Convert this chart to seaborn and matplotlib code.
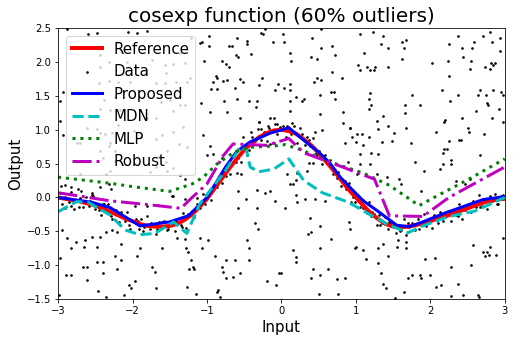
import numpy as np
import seaborn as sns
import matplotlib
matplotlib.use("Agg")
import matplotlib.pyplot as plt

# reference curve
ref_x = [-3.0, -2.9, -2.8, -2.7, -2.6, -2.5, -2.4, -2.3, -2.2, -2.1, -2.0, -1.9, -1.8, -1.7, -1.6,
         -1.5, -1.4, -1.3, -1.2, -1.1, -1.0, -0.9, -0.8, -0.7, -0.6, -0.5, -0.4, -0.3, -0.2, -0.1,
         0.0, 0.1, 0.2, 0.3, 0.4, 0.5, 0.6, 0.7, 0.8, 0.9, 1.0, 1.1, 1.2, 1.3, 1.4, 1.5, 1.6, 1.7,
         1.8, 1.9, 2.0, 2.1, 2.2, 2.3, 2.4, 2.5, 2.6, 2.7, 2.8, 2.9, 3.0]
ref_y = [0.0, -0.02, -0.04, -0.06, -0.09, -0.12, -0.16, -0.21, -0.26, -0.31, -0.35, -0.39, -0.42, -0.43, -0.43,
         -0.42, -0.39, -0.33, -0.25, -0.14, -0.02, 0.13, 0.28, 0.43, 0.57, 0.70, 0.80, 0.89, 0.95, 0.99,
         1.0, 0.98, 0.94, 0.86, 0.77, 0.66, 0.53, 0.40, 0.26, 0.12, 0.0, -0.12, -0.23, -0.32, -0.39, -0.43, -0.44, -0.43,
         -0.41, -0.38, -0.35, -0.31, -0.28, -0.24, -0.20, -0.16, -0.12, -0.08, -0.05, -0.03, -0.02]

# model fits
proposed_x = [-3.0, -2.55, -2.3, -1.9, -1.5, -1.25, -1.0, -0.75, -0.6, -0.42, -0.15, 0.1, 0.25, 0.52, 0.65,
              0.79, 0.92, 1.1, 1.28, 1.55, 1.72, 1.9, 2.17, 2.71, 2.98]
proposed_y = [0.0, -0.07, -0.15, -0.42, -0.36, -0.27, 0.0, 0.45, 0.68, 0.82, 0.95, 1.03, 0.89, 0.65, 0.51,
              0.30, 0.15, -0.05, -0.19, -0.41, -0.43, -0.36, -0.24, -0.03, 0.01]

mdn_x = [-3.0, -2.75, -2.6, -2.3, -2.1, -1.9, -1.7, -1.45, -1.27, -1.1, -0.75, -0.55, -0.47, -0.42, -0.3,
         -0.1, 0.1, 0.3, 0.55, 0.9, 1.2, 1.45, 1.7, 1.9, 2.25, 2.6, 3.0]
mdn_y = [-0.21, -0.06, -0.07, -0.26, -0.48, -0.55, -0.53, -0.36, -0.53, -0.1, 0.4, 0.75, 0.7, 0.45, 0.38,
         0.42, 0.57, 0.25, 0.07, -0.07, -0.26, -0.41, -0.52, -0.42, -0.28, -0.2, 0.0]

mlp_x = [-3.0, -2.3, -2.0, -1.5, -1.2, -1.05, -0.87, -0.65, -0.45, -0.1, 0.05, 0.25, 0.55, 0.8, 1.1,
         1.45, 1.85, 2.05, 2.5, 3.0]
mlp_y = [0.3, 0.21, 0.16, 0.09, 0.2, 0.3, 0.49, 0.66, 0.74, 0.76, 0.78, 0.71, 0.57, 0.47, 0.36,
         0.18, -0.12, 0.0, 0.26, 0.57]

robust_x = [-3.0, -2.3, -1.75, -1.35, -1.2, -1.0, -0.78, -0.65, -0.2, 0.1, 0.3, 0.7, 1.25, 1.45,
            1.9, 2.25, 3.0]
robust_y = [0.07, -0.05, -0.11, -0.16, 0.0, 0.2, 0.62, 0.79, 0.77, 0.87, 0.66, 0.5, 0.27, -0.27,
            -0.28, 0.0, 0.45]

# noisy samples: points lying on the curve
inlier_x = [-2.98, -2.95, -2.91, -2.86, -2.83, -2.79, -2.74, -2.70, -2.66, -2.62, -2.58, -2.55, -2.51, -2.47,
            -2.43, -2.40, -2.36, -2.33, -2.29, -2.25, -2.22, -2.18, -2.14, -2.10, -2.07, -2.03, -1.99, -1.95,
            -1.91, -1.88, -1.84, -1.80, -1.77, -1.73, -1.69, -1.65, -1.62, -1.58, -1.54, -1.50, -1.46, -1.43,
            -1.39, -1.35, -1.32, -1.28, -1.24, -1.20, -1.17, -1.13, -1.09, -1.06, -1.02, -0.98, -0.94, -0.91,
            -0.87, -0.83, -0.80, -0.76, -0.72, -0.69, -0.65, -0.61, -0.58, -0.54, -0.50, -0.46, -0.43, -0.39,
            -0.35, -0.32, -0.28, -0.24, -0.20, -0.17, -0.13, -0.09, -0.06, -0.02, 0.02, 0.06, 0.09, 0.13,
            0.17, 0.21, 0.24, 0.28, 0.32, 0.35, 0.39, 0.43, 0.46, 0.50, 0.54, 0.58, 0.61, 0.65, 0.69,
            0.72, 0.76, 0.80, 0.83, 0.87, 0.91, 0.94, 0.98, 1.02, 1.06, 1.09, 1.13, 1.17, 1.20, 1.24,
            1.28, 1.31, 1.35, 1.39, 1.43, 1.46, 1.50, 1.54, 1.57, 1.61, 1.65, 1.68, 1.72, 1.76, 1.80,
            1.83, 1.87, 1.91, 1.94, 1.98, 2.02, 2.05, 2.09, 2.13, 2.17, 2.20, 2.24, 2.28, 2.31, 2.35,
            2.39, 2.42, 2.46, 2.50, 2.54, 2.57, 2.61, 2.65, 2.69, 2.72, 2.76, 2.80, 2.83, 2.87, 2.91,
            2.95, 2.98]
inlier_y = [0.06, -0.10, 0.00, -0.07, 0.08, -0.17, -0.05, -0.01, -0.14, 0.00, -0.12, 0.04, -0.17, -0.10,
            -0.26, -0.09, -0.19, -0.10, -0.27, -0.19, -0.19, -0.36, -0.27, -0.35, -0.21, -0.47, -0.35, -0.32,
            -0.46, -0.32, -0.43, -0.28, -0.47, -0.40, -0.54, -0.36, -0.44, -0.34, -0.48, -0.38, -0.35, -0.49,
            -0.36, -0.40, -0.23, -0.45, -0.28, -0.20, -0.29, -0.09, -0.15, 0.05, -0.09, 0.04, -0.04, 0.18,
            0.16, 0.32, 0.22, 0.38, 0.46, 0.35, 0.52, 0.52, 0.71, 0.52, 0.70, 0.79, 0.70, 0.89,
            0.83, 1.01, 0.85, 0.96, 0.84, 1.03, 0.97, 1.08, 0.94, 1.04, 1.06, 0.90, 1.00, 0.93,
            1.06, 0.80, 0.91, 0.93, 0.78, 0.90, 0.76, 0.88, 0.65, 0.69, 0.50, 0.63, 0.51, 0.56, 0.35,
            0.41, 0.38, 0.17, 0.24, 0.12, 0.22, -0.06, 0.02, 0.03, -0.14, -0.03, -0.17, -0.06, -0.28, -0.24,
            -0.41, -0.26, -0.37, -0.29, -0.46, -0.37, -0.37, -0.52, -0.42, -0.48, -0.32, -0.56, -0.43, -0.37, -0.48,
            -0.32, -0.41, -0.24, -0.42, -0.33, -0.45, -0.26, -0.32, -0.21, -0.35, -0.24, -0.20, -0.34, -0.22, -0.26,
            -0.09, -0.32, -0.18, -0.11, -0.21, -0.05, -0.14, 0.04, -0.13, -0.04, -0.17, 0.02, -0.05, 0.05, -0.09,
            0.02, 0.04]

# a second, sparser pass along the curve where the cloud is thicker
inlier2_x = [-2.72, -2.57, -2.45, -2.38, -2.27, -2.16, -2.05, -1.93, -1.86, -1.75, -1.67, -1.60, -1.52, -1.41,
             -1.33, -1.26, -0.85, -0.74, -0.63, -0.48, 0.37, 0.48, 0.63, 0.74, 0.85, 0.96, 1.04, 1.15,
             1.22, 1.33, 1.45, 1.59, 1.70, 1.85, 1.96, 2.11, 2.26, 2.37, 2.52, 2.67, 2.78, 2.89]
inlier2_y = [-0.14, -0.05, -0.18, -0.09, -0.32, -0.22, -0.41, -0.35, -0.49, -0.37, -0.46, -0.36, -0.47, -0.35,
             -0.43, -0.24, 0.25, 0.31, 0.57, 0.78, 0.85, 0.62, 0.53, 0.29, 0.25, 0.01, 0.00, -0.23,
             -0.22, -0.41, -0.36, -0.49, -0.37, -0.47, -0.33, -0.37, -0.21, -0.28, -0.09, -0.14, -0.02, -0.09]

# outliers, upper band (y > 1.1)
upper_x = [-2.88, -2.60, -2.48, -2.06, -1.94, -1.81, -2.93, -2.98,
           -0.97, -1.07, -1.10, -0.97, -0.71, -0.66, -0.59, -0.46, -0.46, -0.27, -0.25, -0.22, -0.11,
           -1.04, -0.80, -0.75, -0.70, -0.61, -0.58, -0.41, -0.88, -0.86, -0.92, -0.78, -0.73, -0.56,
           -0.52, -0.26, -0.30, -0.04, -0.08, -0.94, -0.87, -0.62, -1.08, -0.77, -0.60, -0.43, -0.33,
           -0.34, -0.96, -0.73, -0.55, -0.15, -0.10,
           0.02, 0.53, 0.04, 0.41, 0.11, 0.13, 0.53, 0.68, 0.72, 0.40, 0.48, 1.06, 1.23, 1.37, 1.34,
           1.43, 1.11, 1.03, 1.15, 1.26, 1.05, 1.19, 1.25, 1.43, 0.68, 0.48, 0.53, 0.44, 0.82, 0.11,
           0.04, 0.12, 0.20, 0.27, 0.31, 0.52, 0.67, 0.70, 0.72, 0.11, 1.19, 1.18, 1.21, 1.17, 0.11,
           0.52, 0.83, 1.37,
           1.62, 1.68, 1.64, 1.62, 2.02, 2.25, 2.24, 2.25, 2.37, 2.43, 2.44, 2.56, 2.59, 2.71, 2.80,
           2.83, 2.94, 2.94, 2.55, 2.53, 2.74, 2.80, 2.82, 2.84, 2.87, 1.76, 2.16, 2.27, 2.37, 2.67,
           2.64, 2.75, 2.84, 2.95, 2.98, 1.66, 1.86, 1.66, 2.76, 2.78, 2.92, 2.62, 2.43, 2.83,
           0.83, 0.92, 1.28, 1.43, 2.20, 2.18, 2.98, -0.30, -0.18, -0.06, -2.98]
upper_y = [2.49, 2.41, 2.43, 2.44, 2.43, 2.46, 1.55, 1.42,
           2.38, 2.29, 2.28, 2.24, 2.23, 2.23, 2.35, 2.31, 2.26, 2.43, 2.41, 2.48, 2.30,
           2.01, 2.02, 1.97, 1.93, 2.10, 2.08, 2.12, 1.80, 1.77, 1.70, 1.72, 1.73, 1.75,
           1.70, 1.77, 1.66, 1.67, 1.58, 1.60, 1.60, 1.62, 1.39, 1.42, 1.45, 1.42, 1.42,
           1.33, 1.26, 1.26, 1.17, 1.17, 1.17,
           2.42, 2.49, 2.30, 2.36, 2.14, 2.01, 2.21, 2.24, 2.11, 2.07, 2.05, 2.42, 2.44, 2.38, 2.27,
           2.21, 2.13, 1.96, 1.93, 1.93, 1.88, 1.88, 1.88, 1.92, 1.85, 1.76, 1.74, 1.70, 1.76, 1.67,
           1.62, 1.59, 1.48, 1.43, 1.46, 1.51, 1.55, 1.55, 1.45, 1.42, 1.54, 1.46, 1.37, 1.30, 1.27,
           1.23, 1.26, 1.21,
           2.29, 2.32, 2.20, 2.04, 1.98, 2.26, 2.02, 1.80, 2.39, 2.20, 2.08, 2.20, 2.30, 2.38, 2.45,
           2.29, 2.35, 2.16, 2.01, 1.90, 1.92, 1.90, 1.99, 1.96, 1.98, 1.52, 1.59, 1.43, 1.51, 1.59,
           1.51, 1.52, 1.58, 1.55, 1.52, 1.36, 1.37, 1.24, 1.40, 1.37, 1.30, 1.27, 1.18, 1.18,
           1.10, 1.03, 1.13, 1.06, 1.14, 1.12, 1.12, 1.11, 1.06, 1.08, 1.13]

# outliers hidden behind the legend box
legend_x = [-2.19, -2.44, -2.32, -2.44, -2.08, -1.74, -1.57, -1.45, -1.36, -1.29, -1.55, -1.68, -1.56,
            -1.41, -1.27, -2.45, -2.32, -2.19, -2.04, -2.23, -2.38, -2.44, -2.30, -2.17, -1.90, -1.81,
            -1.68, -1.45, -1.36, -1.50, -1.62, -2.19, -2.44, -2.28, -1.98, -1.88, -1.61, -1.45, -1.32,
            -1.38, -1.27, -1.54, -1.65, -2.70, -2.61, -2.48, -2.30, -2.23, -2.44, -2.39, -2.23, -2.30,
            -1.76, -1.68, -1.54, -1.45, -1.36, -2.35, -2.70, -1.21, -1.23, -1.30, -2.31, -2.75, -2.37]
legend_y = [2.30, 2.10, 2.00, 1.93, 2.00, 2.03, 1.95, 1.97, 2.13, 1.98, 1.84, 1.69, 1.69,
            1.71, 1.71, 1.69, 1.72, 1.70, 1.71, 1.49, 1.44, 1.31, 1.29, 1.29, 1.29, 1.18,
            1.18, 1.27, 1.36, 1.44, 1.41, 1.07, 0.95, 0.95, 0.98, 0.90, 0.92, 0.97, 1.04,
            0.79, 0.74, 0.69, 0.60, 0.80, 1.03, 1.01, 0.80, 0.69, 0.69, 0.59, 0.54, 0.39,
            0.38, 0.45, 0.39, 0.43, 0.33, 0.35, 0.35, 2.36, 1.76, 1.36, 0.76, 0.80, 0.94]

# outliers, middle band (-0.2 < y < 1.1)
middle_x = [-2.93, -2.96, -2.91, -2.82, -2.73, -2.69, -2.55, -2.53, -2.44, -2.31, -2.29, -2.91, -2.82,
            -1.97, -1.81, -1.66, -1.68, -1.55,
            -0.30, -0.28, -1.05, -0.96, -0.52, -0.41, -0.38, -1.00, -0.92, -0.80, -0.58, -0.46, -0.39,
            -0.16, -0.10, -0.60, -0.54, -0.58, -0.33, -0.22, -0.16, -1.30, -1.47, -1.45, -1.30, -1.14,
            -0.47, -0.09, -0.58, -0.33,
            0.07, 0.14, 0.25, 0.45, 0.54, 0.92, 1.01, 1.08, 0.95, 1.17, 1.30, 1.35, 1.48, 0.86, 1.00,
            1.09, 1.21, 1.06, 1.30, 0.89, 1.05, 1.19, 1.01, 1.28, 1.42, 0.37, 0.43, 0.07, 0.21, 0.34,
            0.19, 0.16, 0.11, 0.19, 0.32, 0.45, 0.59, 0.99, 0.21, 0.05, 1.10,
            1.51, 1.67, 2.07, 2.50, 2.52, 2.72, 1.74, 2.25, 2.38, 2.41, 2.18, 2.23, 2.17, 2.67, 2.28,
            2.28, 1.79, 1.92, 2.17, 2.13, 1.58, 1.61, 1.88, 2.35, 2.46, 2.53, -0.36]
middle_y = [0.92, 0.17, 0.18, 0.15, 0.13, 0.10, 0.07, 0.02, 0.15, 0.20, 0.12, -0.15, -0.13,
            -0.13, -0.13, -0.11, 0.86, 0.52,
            1.11, 1.01, 0.92, 0.76, 0.90, 0.96, 0.84, 0.63, 0.64, 0.58, 0.59, 0.63, 0.44,
            0.79, 0.81, 0.36, 0.35, 0.10, 0.11, 0.06, 0.10, 0.27, 0.02, 0.02, -0.02, -0.01,
            -0.02, -0.05, -0.16, -0.16,
            1.05, 1.10, 1.02, 0.97, 0.99, 1.03, 0.94, 0.94, 0.89, 0.89, 1.01, 0.82, 0.84, 0.80, 0.82,
            0.77, 0.66, 0.64, 0.64, 0.52, 0.49, 0.49, 0.35, 0.35, 0.30, 0.51, 0.51, 0.35, 0.36, 0.39,
            0.26, 0.20, 0.20, 0.04, -0.02, -0.02, -0.05, -0.06, -0.06, -0.15, -0.15,
            0.95, 1.02, 0.96, 1.02, 0.97, 0.94, 0.81, 0.84, 0.85, 0.85, 0.72, 0.72, 0.65, 0.63, 0.56,
            0.49, 0.52, 0.39, 0.49, 0.42, 0.28, 0.20, 0.10, 0.24, 0.20, 0.27, -0.38]

# outliers, lower band (y < -0.3)
lower_x = [-2.95, -2.88, -2.82, -2.76, -2.64, -2.65, -2.55, -2.48, -2.44, -2.35, -2.28, -2.21, -2.16,
           -2.15, -2.24, -2.21, -2.39, -2.48, -2.39, -2.61, -2.66, -2.61, -2.82, -2.90, -2.98, -2.99,
           -2.47, -2.35, -2.12, -2.05, -2.02, -1.97, -1.94, -1.90, -1.74, -1.70, -1.68, -1.61, -1.40,
           -1.30, -1.28, -1.25, -1.21, -1.19, -1.24, -1.18, -1.27, -1.15, -1.09, -1.07, -0.98, -0.89,
           -0.80, -0.74, -0.79, -0.85, -0.87, -0.82, -0.74, -0.62, -0.65, -0.56, -0.46, -0.44, -0.43,
           -0.32,
           0.38, 0.40, 0.52, 0.36, 0.67, 0.52, 0.15, 0.20, 0.19, 0.00, -0.03, -0.19, -0.07, 0.40,
           0.43, 0.52, 0.62, 0.74, 0.85, 0.76, 0.51, 0.92, 0.91, 1.00, 0.99, 1.10, 1.14, 1.30, 1.34,
           1.37, 1.41, 1.43, 1.30, 1.36, 1.55, 1.57, 1.67, 1.68, 1.75, 1.70, 1.86, 1.88, 1.99, 1.93,
           2.06, 2.08, 2.15, 2.28, 2.37, 2.44, 2.28, 1.52, 1.64, 2.55, 2.57, 2.64, 2.66, 2.73, 2.71,
           2.76, 2.79, 2.88, 2.80, 2.98]
lower_y = [-0.48, -0.60, -0.75, -0.65, -0.63, -0.73, -0.58, -0.73, -0.58, -0.51, -0.48, -0.51, -0.68,
           -0.92, -0.87, -1.05, -0.95, -0.95, -1.12, -1.02, -1.02, -1.22, -1.15, -1.15, -0.90, -1.44,
           -1.38, -1.47, -1.44, -1.29, -1.34, -1.24, -0.87, -0.74, -1.02, -1.10, -1.34, -0.75, -0.60,
           -0.62, -0.75, -0.80, -0.92, -1.02, -1.05, -1.05, -1.32, -1.42, -0.60, -0.74, -0.63, -0.87,
           -1.02, -0.92, -1.10, -1.37, -1.39, -1.47, -1.19, -0.92, -1.17, -1.12, -0.63, -0.75, -0.92,
           -0.46,
           -0.31, -0.51, -0.42, -0.54, -0.62, -0.75, -0.77, -0.88, -0.95, -1.12, -1.12, -1.23, -1.29, -1.19,
           -1.05, -1.15, -1.06, -1.21, -1.19, -1.43, -1.42, -0.46, -0.36, -0.73, -0.75, -0.77, -0.91, -0.97, -1.12,
           -1.27, -1.34, -0.87, -0.74, -0.68, -0.73, -0.63, -0.65, -0.75, -1.15, -1.19, -1.15, -1.19, -1.15, -0.91,
           -0.90, -1.32, -1.29, -1.02, -1.27, -1.44, -1.46, -1.48, -1.39, -1.00, -0.70, -1.44, -1.47, -0.87, -0.80,
           -0.80, -0.85, -0.85, -0.73, -0.60]

data_x = inlier_x + inlier2_x + upper_x + legend_x + middle_x + lower_x
data_y = inlier_y + inlier2_y + upper_y + legend_y + middle_y + lower_y

fig = plt.figure(figsize=(514 / 72, 343 / 72), dpi=72)
ax = fig.add_subplot(111)
fig.subplots_adjust(left=0.113, right=0.982, top=0.918, bottom=0.128)

sns.lineplot(x=ref_x, y=ref_y, ax=ax, color='r', linewidth=4, sort=False, label='Reference')
sns.scatterplot(x=data_x, y=data_y, ax=ax, color='k', s=7, linewidth=0, label='Data')
sns.lineplot(x=proposed_x, y=proposed_y, ax=ax, color='b', linewidth=3, sort=False, label='Proposed')
sns.lineplot(x=mdn_x, y=mdn_y, ax=ax, color='c', linewidth=3, linestyle='--', sort=False, label='MDN')
sns.lineplot(x=mlp_x, y=mlp_y, ax=ax, color='g', linewidth=3, linestyle=':', sort=False, label='MLP')
sns.lineplot(x=robust_x, y=robust_y, ax=ax, color='m', linewidth=3, linestyle='-.', sort=False, label='Robust')

ax.set_xlim(-3, 3)
ax.set_ylim(-1.5, 2.5)
ax.set_xlabel('Input', fontsize=15)
ax.set_ylabel('Output', fontsize=15)
ax.set_title('cosexp function (60% outliers)', fontsize=20)
ax.legend(loc='upper left', fontsize=15)

fig.savefig('out.png', dpi=72)
